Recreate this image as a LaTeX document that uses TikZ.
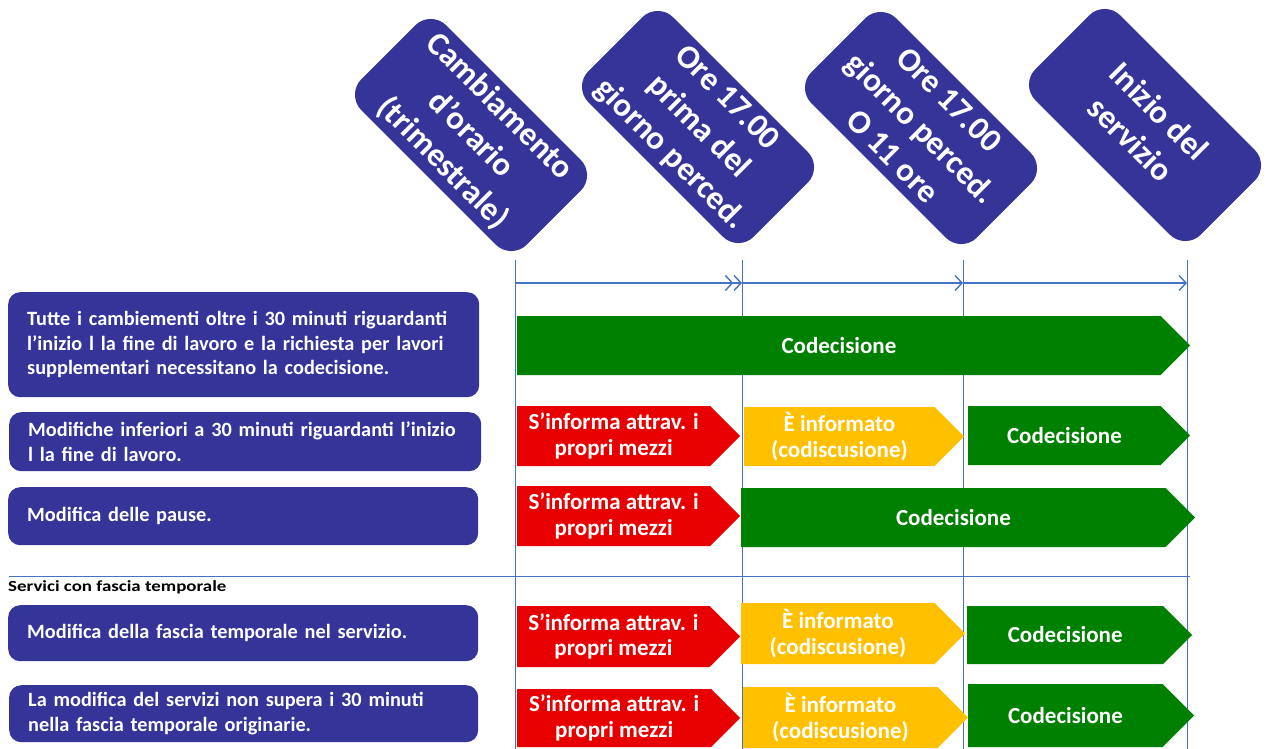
\documentclass[tikz,border=0pt]{standalone}
\usepackage{fontspec}
\setmainfont{Carlito}
\usetikzlibrary{shapes.symbols,arrows.meta}
\definecolor{boxblue}{RGB}{53,53,153}
\definecolor{lineblue}{RGB}{68,114,196}
\definecolor{cred}{RGB}{232,0,0}
\definecolor{cyellow}{RGB}{255,192,0}
\definecolor{cgreen}{RGB}{0,128,0}
\tikzset{
  hdr/.style={rectangle, rounded corners=22pt, fill=boxblue, text=white,
    font=\bfseries\fontsize{33}{40}\selectfont, align=center,
    minimum width=234pt, minimum height=120pt, rotate=-45, inner sep=0pt},
  lbox/.style={rectangle, rounded corners=12pt, fill=boxblue, text=white,
    font=\bfseries\fontsize{20.3}{24.5}\selectfont, align=left,
    inner xsep=19pt, inner ysep=0pt, anchor=north west},
  chev/.style={signal, signal to=east, signal from=nowhere, signal pointer angle=90,
    inner sep=0pt, text=white, font=\bfseries\fontsize{23}{25.5}\selectfont,
    align=center, anchor=west},
  vline/.style={draw=lineblue, line width=1pt},
  tarrow/.style={draw=lineblue, line width=1.4pt},
}
\begin{document}
\begin{tikzpicture}[x=1pt,y=-1pt]
\useasboundingbox[fill=white] (0,0) rectangle (1269,749);
% header boxes
\node[hdr] (h1) at (471,135) {Cambiamento\\d’orario\\(trimestrale)};
\node[hdr] (h2) at (698,127) {Ore 17.00\\prima del\\giorno perced.};
\node[hdr] (h3) at (921,128) {Ore 17.00\\giorno perced.\\O 11 ore};
\node[hdr] (h4) at (1145,125) {Inizio del\\servizio};
% vertical lines
\coordinate (v1t) at (515,260); \coordinate (v1b) at (515,749);
\coordinate (v2t) at (742,260); \coordinate (v2b) at (742,749);
\coordinate (v3t) at (963,260); \coordinate (v3b) at (963,749);
\coordinate (v4t) at (1187,260); \coordinate (v4b) at (1187,749);
\draw[vline] (v1t) -- (v1b);
\draw[vline] (v2t) -- (v2b);
\draw[vline] (v3t) -- (v3b);
\draw[vline] (v4t) -- (v4b);
% time arrows
\coordinate (a1) at (515,283); \coordinate (a2) at (742,283);
\coordinate (a3) at (963,283); \coordinate (a4) at (1187,283);
\draw[tarrow, -{Straight Barb[length=7pt,width=15pt] Straight Barb[length=7pt,width=15pt]}] (a1) -- (a2);
\draw[tarrow, -{Straight Barb[length=7pt,width=15pt]}] (a2) -- (a3);
\draw[tarrow, -{Straight Barb[length=7pt,width=15pt]}] (a3) -- (a4);
% separator
\coordinate (s1) at (9,576); \coordinate (s2) at (1190,576);
\draw[vline] (s1) -- (s2);
\node[anchor=base west, inner sep=0pt, font=\bfseries\fontsize{15.5}{17}\selectfont] (sect) at (8,591) {\scalebox{1.22}[1]{Servici con fascia temporale}};
% left boxes
\node[lbox, minimum width=471pt, minimum height=105pt, text width=433pt] (l1) at (8,292)
  {Tutte i cambiementi oltre i 30 minuti riguardanti\\l’inizio l la fine di lavoro e la richiesta per lavori\\supplementari necessitano la codecisione.};
\node[lbox, minimum width=472pt, minimum height=59pt, text width=434pt] (l2) at (9,412)
  {Modifiche inferiori a 30 minuti riguardanti l’inizio\\l la fine di lavoro.};
\node[lbox, minimum width=470pt, minimum height=58pt, text width=432pt] (l3) at (8,487)
  {Modifica delle pause.};
\node[lbox, minimum width=470pt, minimum height=56pt, text width=432pt] (l4) at (8,605)
  {Modifica della fascia temporale nel servizio.};
\node[lbox, minimum width=469pt, minimum height=57pt, text width=431pt] (l5) at (9,685)
  {La modifica del servizi non supera i 30 minuti\\nella fascia temporale originarie.};
% row 1
\node[chev, fill=cgreen, minimum width=673pt, minimum height=59pt] (r1g) at (517,345.5) {Codecisione};
% row 2
\node[chev, fill=cred, minimum width=223pt, minimum height=60pt] (r2r) at (517,436) {S’informa attrav. i\\propri mezzi};
\node[chev, fill=cyellow, minimum width=220pt, minimum height=59pt] (r2y) at (744,436.5) {È informato\\(codiscusione)};
\node[chev, fill=cgreen, minimum width=222pt, minimum height=59pt] (r2g) at (968,435.5) {Codecisione};
% row 3
\node[chev, fill=cred, minimum width=223pt, minimum height=60pt] (r3r) at (517,516) {S’informa attrav. i\\propri mezzi};
\node[chev, fill=cgreen, minimum width=454pt, minimum height=59pt] (r3g) at (741,517.5) {Codecisione};
% row 4
\node[chev, fill=cred, minimum width=223pt, minimum height=61pt] (r4r) at (517,636.5) {S’informa attrav. i\\propri mezzi};
\node[chev, fill=cyellow, minimum width=224pt, minimum height=61pt] (r4y) at (741,633.5) {È informato\\(codiscusione)};
\node[chev, fill=cgreen, minimum width=225pt, minimum height=58pt] (r4g) at (967,635) {Codecisione};
% row 5
\node[chev, fill=cred, minimum width=223pt, minimum height=58pt] (r5r) at (517,718) {S’informa attrav. i\\propri mezzi};
\node[chev, fill=cyellow, minimum width=225pt, minimum height=61pt] (r5y) at (743,717.5) {È informato\\(codiscusione)};
\node[chev, fill=cgreen, minimum width=226pt, minimum height=63pt] (r5g) at (968,715.5) {Codecisione};
\end{tikzpicture}
\end{document}
